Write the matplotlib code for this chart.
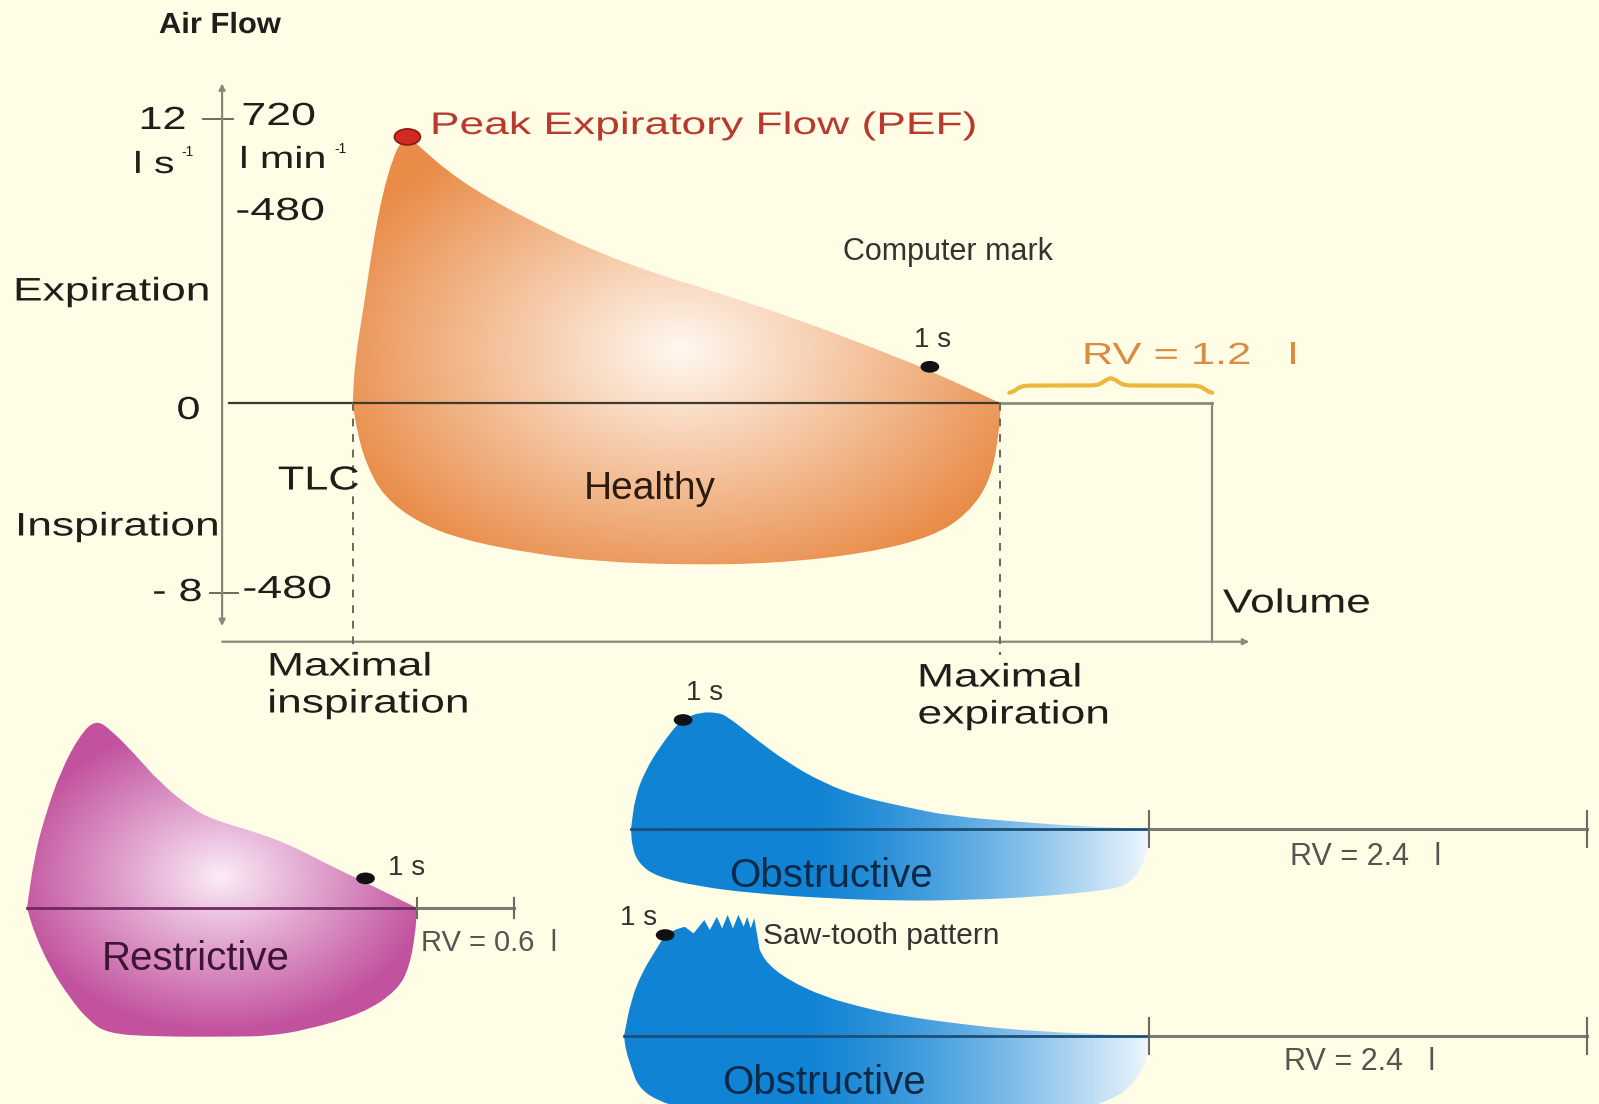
import numpy as np
import matplotlib
matplotlib.use('Agg')
import matplotlib.pyplot as plt
from matplotlib.patches import PathPatch, Ellipse
from matplotlib.path import Path
from matplotlib.colors import to_rgb
from matplotlib.patheffects import AbstractPathEffect
from matplotlib.transforms import Affine2D

W, H = 1599, 1104
SX, SY = 176.5, 23.7          # pixels per litre, pixels per l/s (same scale for every loop)
BG = '#fffde6'
ARIAL = ['Liberation Sans', 'DejaVu Sans']

# ---- healthy loop (volume from TLC in l, flow in l/s) ----
healthy_exp_vol = [0.0, 0.013, 0.06, 0.115, 0.17, 0.23, 0.27, 0.31, 0.40, 0.53, 0.72, 1.0,
                   1.38, 1.76, 1.97, 2.14, 2.53, 3.10, 3.39, 3.67]
healthy_exp_flow = [0.0, 1.83, 3.94, 6.76, 8.87, 10.39, 10.98, 11.30, 10.69, 9.84, 8.87, 7.73,
                    6.38, 5.36, 4.90, 4.48, 3.52, 1.91, 0.98, 0.0]
healthy_insp_vol = [3.67, 3.665, 3.615, 3.488, 3.286, 2.906, 2.40, 1.895, 1.39, 1.01, 0.63,
                    0.377, 0.175, 0.074, 0.023]
healthy_insp_flow = [0.0, -1.12, -3.24, -4.64, -5.63, -6.33, -6.75, -6.82, -6.68, -6.33, -5.77,
                     -5.06, -3.94, -2.53, -1.12]
healthy_pef = (0.31, 11.24)
healthy_1s = (3.27, 1.54)

# ---- restrictive loop ----
restr_exp_vol = [0.0, 0.042, 0.107, 0.194, 0.30, 0.39, 0.476, 0.606, 0.757, 0.931, 1.061,
                 1.257, 1.473, 1.69, 1.929, 2.21]
restr_exp_flow = [0.0, 2.2, 4.0, 5.82, 7.30, 7.95, 7.51, 6.53, 5.26, 4.21, 3.71, 3.29, 2.73,
                  1.89, 1.04, 0.0]
restr_insp_vol = [2.21, 2.20, 2.167, 2.10, 1.907, 1.582, 1.365, 1.19, 0.714, 0.454, 0.346,
                  0.237, 0.129, 0.042]
restr_insp_flow = [0.0, -1.07, -2.48, -3.46, -4.44, -5.15, -5.40, -5.43, -5.43, -5.29, -4.73,
                   -3.74, -2.48, -1.07]
restr_1s = (1.918, 1.25)

# ---- obstructive loop ----
obs_exp_vol = [0.0, 0.023, 0.083, 0.164, 0.266, 0.306, 0.387, 0.488, 0.549, 0.69, 0.893,
               1.095, 1.297, 1.55, 1.803, 2.20, 2.512, 2.937]
obs_exp_flow = [0.0, 1.36, 2.49, 3.47, 4.46, 4.67, 4.92, 4.92, 4.74, 3.89, 2.77, 1.93, 1.36,
                0.94, 0.55, 0.30, 0.13, 0.0]
obs_insp_vol = [2.937, 2.916, 2.835, 2.714, 2.309, 1.904, 1.50, 1.095, 0.69, 0.387, 0.144,
                0.043, 0.006]
obs_insp_flow = [0.0, -1.31, -2.29, -2.57, -2.86, -3.0, -3.03, -2.92, -2.71, -2.43, -2.01,
                 -1.45, -0.75]
obs_1s = (0.295, 4.60)

# ---- obstructive loop with saw-tooth pattern ----
saw_exp_vol = [0.0, 0.04, 0.10, 0.18, 0.233, 0.283, 0.344, 0.394, 0.455, 0.486, 0.526, 0.556,
               0.587, 0.617, 0.648, 0.678, 0.698, 0.718, 0.738, 0.769, 0.809, 0.931, 1.133,
               1.335, 1.538, 1.942, 2.347, 2.975]
saw_exp_flow = [0.0, 1.52, 2.65, 3.63, 4.26, 4.47, 4.61, 4.33, 4.89, 4.47, 5.03, 4.54, 5.11,
                4.54, 5.11, 4.61, 5.03, 4.54, 4.97, 3.63, 3.07, 2.36, 1.66, 1.24, 0.89, 0.46,
                0.18, 0.0]
saw_insp_vol = [2.975, 2.954, 2.853, 2.75, 2.6, 2.3, 1.8, 1.2, 0.7, 0.35, 0.18, 0.08, 0.04, 0.01]
saw_insp_flow = [0.0, -1.3, -2.28, -2.7, -3.1, -3.4, -3.55, -3.55, -3.4, -3.1, -2.7, -2.14,
                 -1.3, -0.6]
saw_1s = (0.233, 4.26)
saw_teeth = range(6, 20)

# residual volumes as drawn (l) and their labels
rv_drawn = [1.2, 0.55, 2.48, 2.48]
rv_labels = ['RV = 1.2', 'RV = 0.6  l', 'RV = 2.4   l', 'RV = 2.4   l']


class Stretch(AbstractPathEffect):
    """widen glyphs horizontally (the figure uses an expanded sans font)"""
    def __init__(self, sx, anchor='left'):
        super().__init__()
        self.sx, self.anchor = sx, anchor

    def draw_path(self, renderer, gc, tpath, affine, rgbFace=None):
        bb = tpath.get_extents(affine)
        x0 = {'left': bb.x0, 'center': 0.5 * (bb.x0 + bb.x1), 'right': bb.x1}[self.anchor]
        aff = affine + Affine2D().translate(-x0, 0).scale(self.sx, 1).translate(x0, 0)
        renderer.draw_path(gc, tpath, aff, rgbFace)


def panel(fig, ox, oy):
    """full-figure axes whose (0 l, 0 l/s) sits at pixel (ox, oy)"""
    ax = fig.add_axes([0, 0, 1, 1])
    ax.set_xlim(-ox / SX, (W - ox) / SX)
    ax.set_ylim(-(H - oy) / SY, oy / SY)
    ax.axis('off')
    ax.patch.set_visible(False)
    return ax


def loop_path(vol, flow, sharp=()):
    P = np.column_stack([vol, flow])
    mids = (P + np.roll(P, -1, axis=0)) / 2
    verts, codes = [mids[-1]], [Path.MOVETO]
    for i in range(len(P)):
        c = Path.LINETO if i in sharp else Path.CURVE3
        verts += [P[i], mids[i]]
        codes += [c, c]
    return Path(verts, codes)


def fill_loop(ax, vol, flow, sharp, edge, light, center=None, radii=None, fade=None, power=1.0):
    patch = PathPatch(loop_path(vol, flow, sharp), facecolor='none', edgecolor='none')
    ax.add_patch(patch)
    x0, x1 = min(vol) - 0.02, max(vol) + 0.02
    y0, y1 = min(flow) - 0.2, max(flow) + 0.2
    X, Y = np.meshgrid(np.linspace(x0, x1, 500), np.linspace(y0, y1, 300))
    if center is not None:
        d = np.hypot((X - center[0]) * SX / radii[0], (Y - center[1]) * SY / radii[1])
        t = np.clip(d, 0, 1) ** power
    else:
        t = 1 - np.clip((X - fade[0]) / (fade[1] - fade[0]), 0, 1) ** power
    e, l = np.array(to_rgb(edge)), np.array(to_rgb(light))
    img = l[None, None, :] * (1 - t[..., None]) + e[None, None, :] * t[..., None]
    lims = ax.get_xlim(), ax.get_ylim()
    im = ax.imshow(img, extent=(x0, x1, y0, y1), origin='lower', aspect='auto',
                   interpolation='bilinear', zorder=1)
    im.set_clip_path(patch)
    ax.set_xlim(lims[0])
    ax.set_ylim(lims[1])


def dot(ax, xy, w, h, color, ec=None):
    ax.add_patch(Ellipse(xy, w / SX, h / SY, facecolor=color, edgecolor=ec or color, lw=1.2, zorder=5))


def rv_line(ax, start, rv, inner, tick_h):
    ax.plot([0, start], [0, 0], color=inner, lw=2, zorder=3)
    ax.plot([start, start + rv], [0, 0], color='#7b7b70', lw=2.2, zorder=3)
    for v in (start, start + rv):
        ax.plot([v, v], [tick_h / SY, -tick_h / SY], color='#6b6b60', lw=1.5, zorder=3)


fig = plt.figure(figsize=(W / 100, H / 100), dpi=100, facecolor=BG)

# ---------------- healthy panel ----------------
ax = panel(fig, 352.7, 403.3)
n = len(healthy_exp_vol)
fill_loop(ax, healthy_exp_vol + healthy_insp_vol, healthy_exp_flow + healthy_insp_flow,
          {0, n - 1, n}, '#e98c48', '#fff8f0', center=(1.86, 2.25), radii=(370, 250), power=1.0)
axis_c = '#8a8a7c'
yaxis_v, xaxis_f = -0.74, -10.06
ax.annotate('', xy=(yaxis_v, 13.5), xytext=(yaxis_v, -9.4),
            arrowprops=dict(arrowstyle='<|-|>', color=axis_c, lw=1.6, mutation_scale=9,
                            shrinkA=0, shrinkB=0))
ax.annotate('', xy=(5.08, xaxis_f), xytext=(yaxis_v, xaxis_f),
            arrowprops=dict(arrowstyle='-|>', color=axis_c, lw=1.6, mutation_scale=9,
                            shrinkA=0, shrinkB=0))
ax.plot([-0.85, -0.68], [12, 12], color='#6b6b60', lw=1.4)
ax.plot([-0.81, -0.65], [-8, -8], color='#6b6b60', lw=1.4)
fvc = healthy_exp_vol[-1]
ax.plot([-0.70, fvc], [0, 0], color='#3e3a30', lw=1.6, zorder=3)
ax.plot([fvc, fvc + rv_drawn[0]], [0, 0], color='#8a8a7c', lw=2, zorder=3)
ax.plot([fvc + rv_drawn[0]] * 2, [0, xaxis_f], color=axis_c, lw=1.6)
for v in (0, fvc):
    ax.plot([v, v], [0, -10.6], color='#666660', lw=1.4, ls=(0, (4, 4)), zorder=4)
dot(ax, healthy_pef, 26, 16, '#d02a22', '#8c1a12')
dot(ax, healthy_1s, 17, 10, '#111111')
# curly brace over the residual volume
u = np.linspace(0, 0.5, 200)
half = 1 / (1 + np.exp(-70 * (u - 0.035))) + 1 / (1 + np.exp(-70 * (u - 0.465)))
uu = np.concatenate([u, 1 - u[::-1]])
hh = np.concatenate([half, half[::-1]])
ax.plot(fvc + 0.05 + (rv_drawn[0] - 0.05) * uu, 0.42 + hh / 2 * 0.66,
        color='#ecb83c', lw=3, solid_capstyle='round')

# ---------------- restrictive panel ----------------
ax = panel(fig, 27, 908)
n = len(restr_exp_vol)
fill_loop(ax, restr_exp_vol + restr_insp_vol, restr_exp_flow + restr_insp_flow,
          {0, n - 1, n}, '#c2529e', '#fcedf8', center=(1.10, 1.3), radii=(210, 155), power=0.95)
rv_line(ax, restr_exp_vol[-1], rv_drawn[1], '#6e2a60', 10)
dot(ax, restr_1s, 17, 10, '#111111')

# ---------------- obstructive panels ----------------
for (ox, oy), ev, ef, iv, ifl, one_s, rv, extra in [
        ((631, 829), obs_exp_vol, obs_exp_flow, obs_insp_vol, obs_insp_flow, obs_1s, rv_drawn[2], ()),
        ((624, 1036), saw_exp_vol, saw_exp_flow, saw_insp_vol, saw_insp_flow, saw_1s, rv_drawn[3],
         saw_teeth)]:
    ax = panel(fig, ox, oy)
    n = len(ev)
    fill_loop(ax, ev + iv, ef + ifl, {0, n - 1, n} | set(extra), '#1183d4', '#eef6fd',
              fade=(1.0, ev[-1]), power=1.4)
    rv_line(ax, ev[-1], rv, '#1d4f78', 18)
    dot(ax, one_s, 17, 10, '#111111')

# ---------------- text ----------------
tx = fig.add_axes([0, 0, 1, 1])
tx.set_xlim(0, W)
tx.set_ylim(H, 0)
tx.axis('off')
tx.patch.set_visible(False)


def t(x, y, s, size, ha='left', color='#1e1e1a', sx=None, **kw):
    pe = [Stretch(sx, ha)] if sx else []
    tx.text(x, y, s, fontsize=size, family=ARIAL, ha=ha, va='center', color=color,
            path_effects=pe, **kw)


WX = 1.36   # horizontal stretch of the expanded labels
t(159, 25, 'Air Flow', 21, weight='bold', sx=1.06)
t(186, 121, '12', 23, ha='right', sx=1.35)
t(134, 165, 'l s', 22, sx=1.35)
t(181, 152, '-1', 10)
t(242, 117, '720', 23, sx=1.4)
t(240, 160, 'l min', 22, sx=1.35)
t(334, 149, '-1', 10)
t(236, 212, '-480', 23, sx=1.4)
t(14, 292, 'Expiration', 23.5, sx=WX)
t(200, 411, '0', 23, ha='right', sx=1.35)
t(278, 481, 'TLC', 24, sx=1.3)
t(16, 527, 'Inspiration', 23.5, sx=WX)
t(202, 593, '- 8', 23, ha='right', sx=1.35)
t(243, 590, '-480', 23, sx=1.4)
t(268, 667, 'Maximal', 23.5, sx=WX)
t(268, 704, 'inspiration', 23.5, sx=WX)
t(918, 678, 'Maximal', 23.5, sx=WX)
t(918, 715, 'expiration', 23.5, sx=WX)
t(1223, 604, 'Volume', 24, sx=1.33)
t(431, 126, 'Peak Expiratory Flow (PEF)', 22.5, color='#b83a2e', sx=1.42)
t(843, 252, 'Computer mark', 22, color='#333330')
t(933, 340, '1 s', 20, ha='center', color='#333330')
t(1083, 356, rv_labels[0], 22, color='#da8c40', sx=1.42)
t(1289, 356, 'l', 22, color='#da8c40', sx=1.42)
t(650, 489, 'Healthy', 28, ha='center', color='#2a1a10')
t(196, 959, 'Restrictive', 29, ha='center', color='#3d1535')
t(388, 868, '1 s', 20, color='#333330')
t(421, 943, rv_labels[1], 21, color='#555550')
t(705, 693, '1 s', 20, ha='center', color='#333330')
t(831, 876, 'Obstructive', 29, ha='center', color='#0b2a48')
t(1290, 857, rv_labels[2], 22, color='#555550')
t(620, 918, '1 s', 20, color='#333330')
t(763, 936, 'Saw-tooth pattern', 21.5, color='#333330')
t(824, 1083, 'Obstructive', 29, ha='center', color='#0b2a48')
t(1284, 1062, rv_labels[3], 22, color='#555550')

fig.savefig('out.png', dpi=100, facecolor=BG)
